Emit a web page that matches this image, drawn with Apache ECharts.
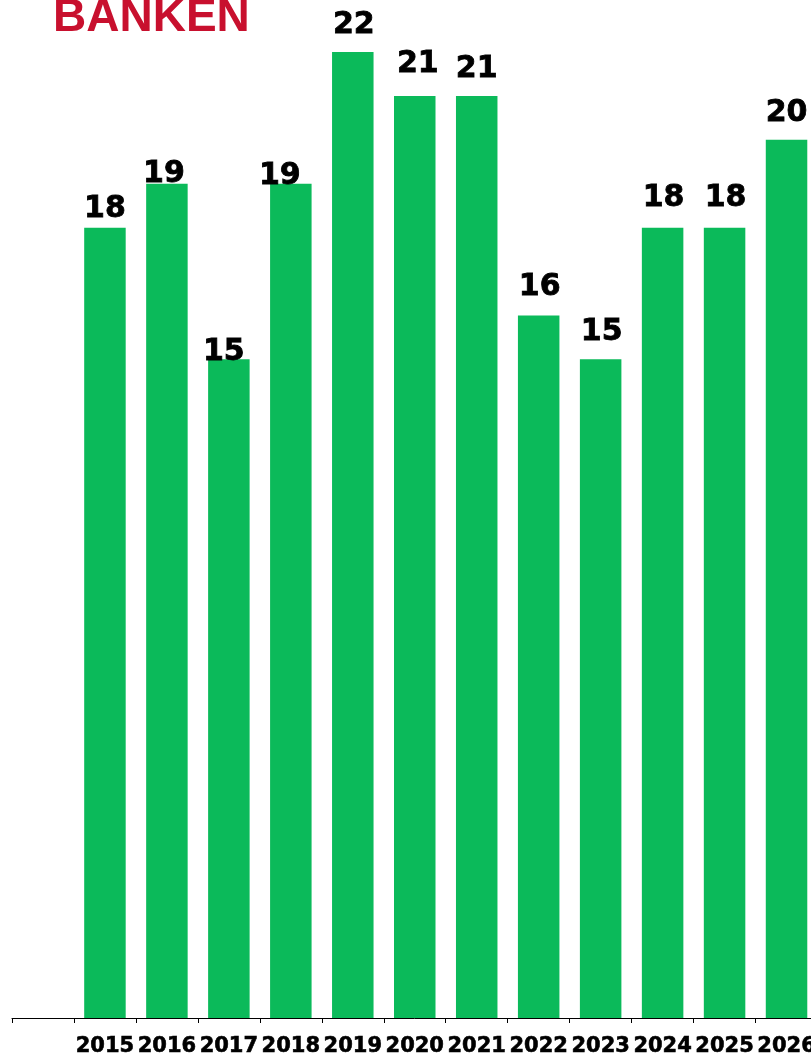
<!DOCTYPE html>
<html>
<head>
<meta charset="utf-8">
<script src="https://cdn.jsdelivr.net/npm/echarts@6/dist/echarts.min.js"></script>
<style>html,body{margin:0;padding:0;background:#fff;overflow:hidden;}#c{width:819px;height:1058px;}</style>
</head>
<body>
<div id="c"></div>
<script>
var categories = ['', '2015', '2016', '2017', '2018', '2019', '2020', '2021', '2022', '2023', '2024', '2025', '2026'];
var values = ['-', 18, 19, 15, 19, 22, 21, 21, 16, 15, 18, 18, 20];
var titleText = 'BANKEN';
// label nudges (style only): [dx, extra gap above bar]
var labelDx  = [0, 0, -3, -5, -11, 1, 3, 0, 1, 1, 1, 1, 0];
var labelGap = [0, 3, -5, -8, -7, 12, 17, 12, 13, 12, 14, 14, 12];

var chart = echarts.init(document.getElementById('c'));
var data = values.map(function (v, i) {
  return {
    value: v,
    label: { offset: [labelDx[i], -labelGap[i]] }
  };
});
chart.setOption({
  animation: false,
  backgroundColor: '#ffffff',
  graphic: [{
    type: 'text',
    left: 53,
    top: -5,
    style: {
      text: titleText,
      fill: '#c8102e',
      font: 'bold 46px "Liberation Sans", Arial, sans-serif'
    }
  }],
  grid: { left: 12, top: 52, right: 0, bottom: 40, containLabel: false },
  xAxis: {
    type: 'category',
    data: categories,
    axisLine: { show: true, lineStyle: { color: '#000', width: 1 } },
    axisTick: { show: true, length: 5, lineStyle: { color: '#000', width: 1 } },
    axisLabel: {
      interval: 0,
      margin: 18,
      color: '#000',
      fontSize: 21,
      fontWeight: 'bold',
      fontFamily: 'DejaVu Sans',
      textBorderColor: '#000',
      textBorderWidth: 0.6
    }
  },
  yAxis: { type: 'value', min: 0, max: 22, show: false, splitLine: { show: false } },
  series: [{
    type: 'bar',
    data: data,
    barWidth: 41.5,
    itemStyle: { color: '#0bba5a' },
    label: {
      show: true,
      position: 'top',
      distance: 0,
      color: '#000',
      fontSize: 30,
      fontWeight: 'bold',
      fontFamily: 'DejaVu Sans',
      textBorderColor: '#000',
      textBorderWidth: 0.8
    }
  }]
});
</script>
</body>
</html>
